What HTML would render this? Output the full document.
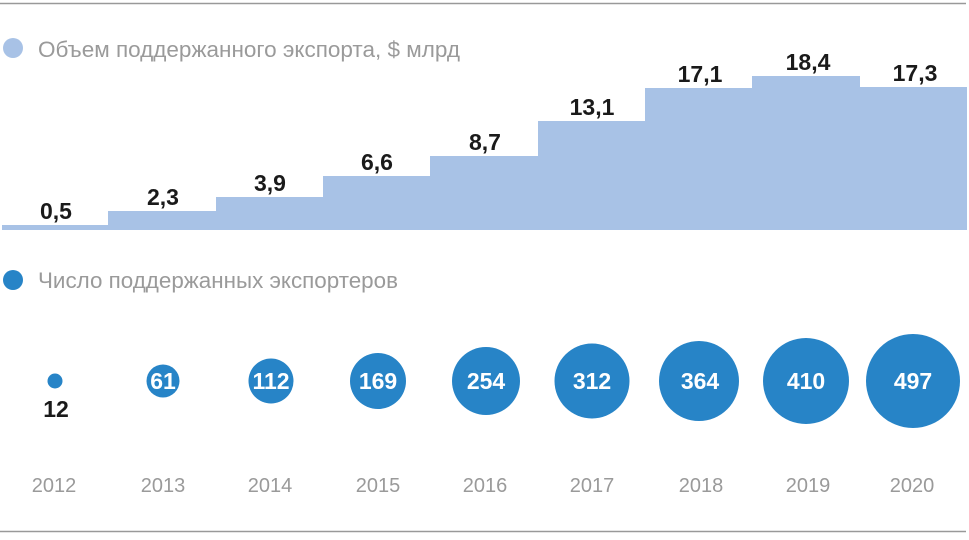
<!DOCTYPE html>
<html><head><meta charset="utf-8"><style>
body{margin:0;background:#fff;}
svg text{font-family:"Liberation Sans",sans-serif;}
</style></head><body>
<svg width="969" height="535" viewBox="0 0 969 535" xmlns="http://www.w3.org/2000/svg">
<line x1="0" y1="3.5" x2="966" y2="3.5" stroke="#999" stroke-width="1.5"/>
<line x1="0" y1="531.5" x2="966" y2="531.5" stroke="#999" stroke-width="1.5"/>
<circle cx="13" cy="48" r="10" fill="#a8c2e6"/>
<text x="38" y="57" font-size="22" fill="#9a9a9a" textLength="422" lengthAdjust="spacingAndGlyphs">Объем поддержанного экспорта, $ млрд</text>
<g fill="#a8c2e6">
<rect x="2" y="225" width="106" height="5"/>
<rect x="108" y="211" width="108" height="19"/>
<rect x="216" y="197" width="107" height="33"/>
<rect x="323" y="176" width="107" height="54"/>
<rect x="430" y="156" width="108" height="74"/>
<rect x="538" y="121" width="107" height="109"/>
<rect x="645" y="88" width="107" height="142"/>
<rect x="752" y="76" width="108" height="154"/>
<rect x="860" y="87" width="107" height="143"/>
</g>
<g font-size="23" font-weight="bold" fill="#1a1a1a" text-anchor="middle">
<text x="56" y="219">0,5</text>
<text x="163" y="205">2,3</text>
<text x="270" y="191">3,9</text>
<text x="377" y="170">6,6</text>
<text x="485" y="150">8,7</text>
<text x="592" y="115">13,1</text>
<text x="700" y="82">17,1</text>
<text x="808" y="70">18,4</text>
<text x="915" y="81">17,3</text>
</g>
<circle cx="13" cy="280" r="10" fill="#2784c7"/>
<text x="38" y="288" font-size="22" fill="#9a9a9a" textLength="360" lengthAdjust="spacingAndGlyphs">Число поддержанных экспортеров</text>
<g fill="#2784c7">
<circle cx="55" cy="381" r="7.5"/>
<circle cx="163" cy="381" r="16.5"/>
<circle cx="271" cy="381" r="22.5"/>
<circle cx="378" cy="381" r="28"/>
<circle cx="486" cy="381" r="34"/>
<circle cx="592" cy="381" r="37.5"/>
<circle cx="699" cy="381" r="40"/>
<circle cx="806" cy="381" r="43"/>
<circle cx="913" cy="381" r="47"/>
</g>
<text x="56" y="417" font-size="23" font-weight="bold" fill="#1a1a1a" text-anchor="middle">12</text>
<g font-size="23" font-weight="bold" fill="#fff" text-anchor="middle">
<text x="163" y="389">61</text>
<text x="271" y="389">112</text>
<text x="378" y="389">169</text>
<text x="486" y="389">254</text>
<text x="592" y="389">312</text>
<text x="700" y="389">364</text>
<text x="806" y="389">410</text>
<text x="913" y="389">497</text>
</g>
<g font-size="20" fill="#9a9a9a" text-anchor="middle">
<text x="54" y="492">2012</text>
<text x="163" y="492">2013</text>
<text x="270" y="492">2014</text>
<text x="378" y="492">2015</text>
<text x="485" y="492">2016</text>
<text x="592" y="492">2017</text>
<text x="701" y="492">2018</text>
<text x="808" y="492">2019</text>
<text x="912" y="492">2020</text>
</g>
</svg>
</body></html>
